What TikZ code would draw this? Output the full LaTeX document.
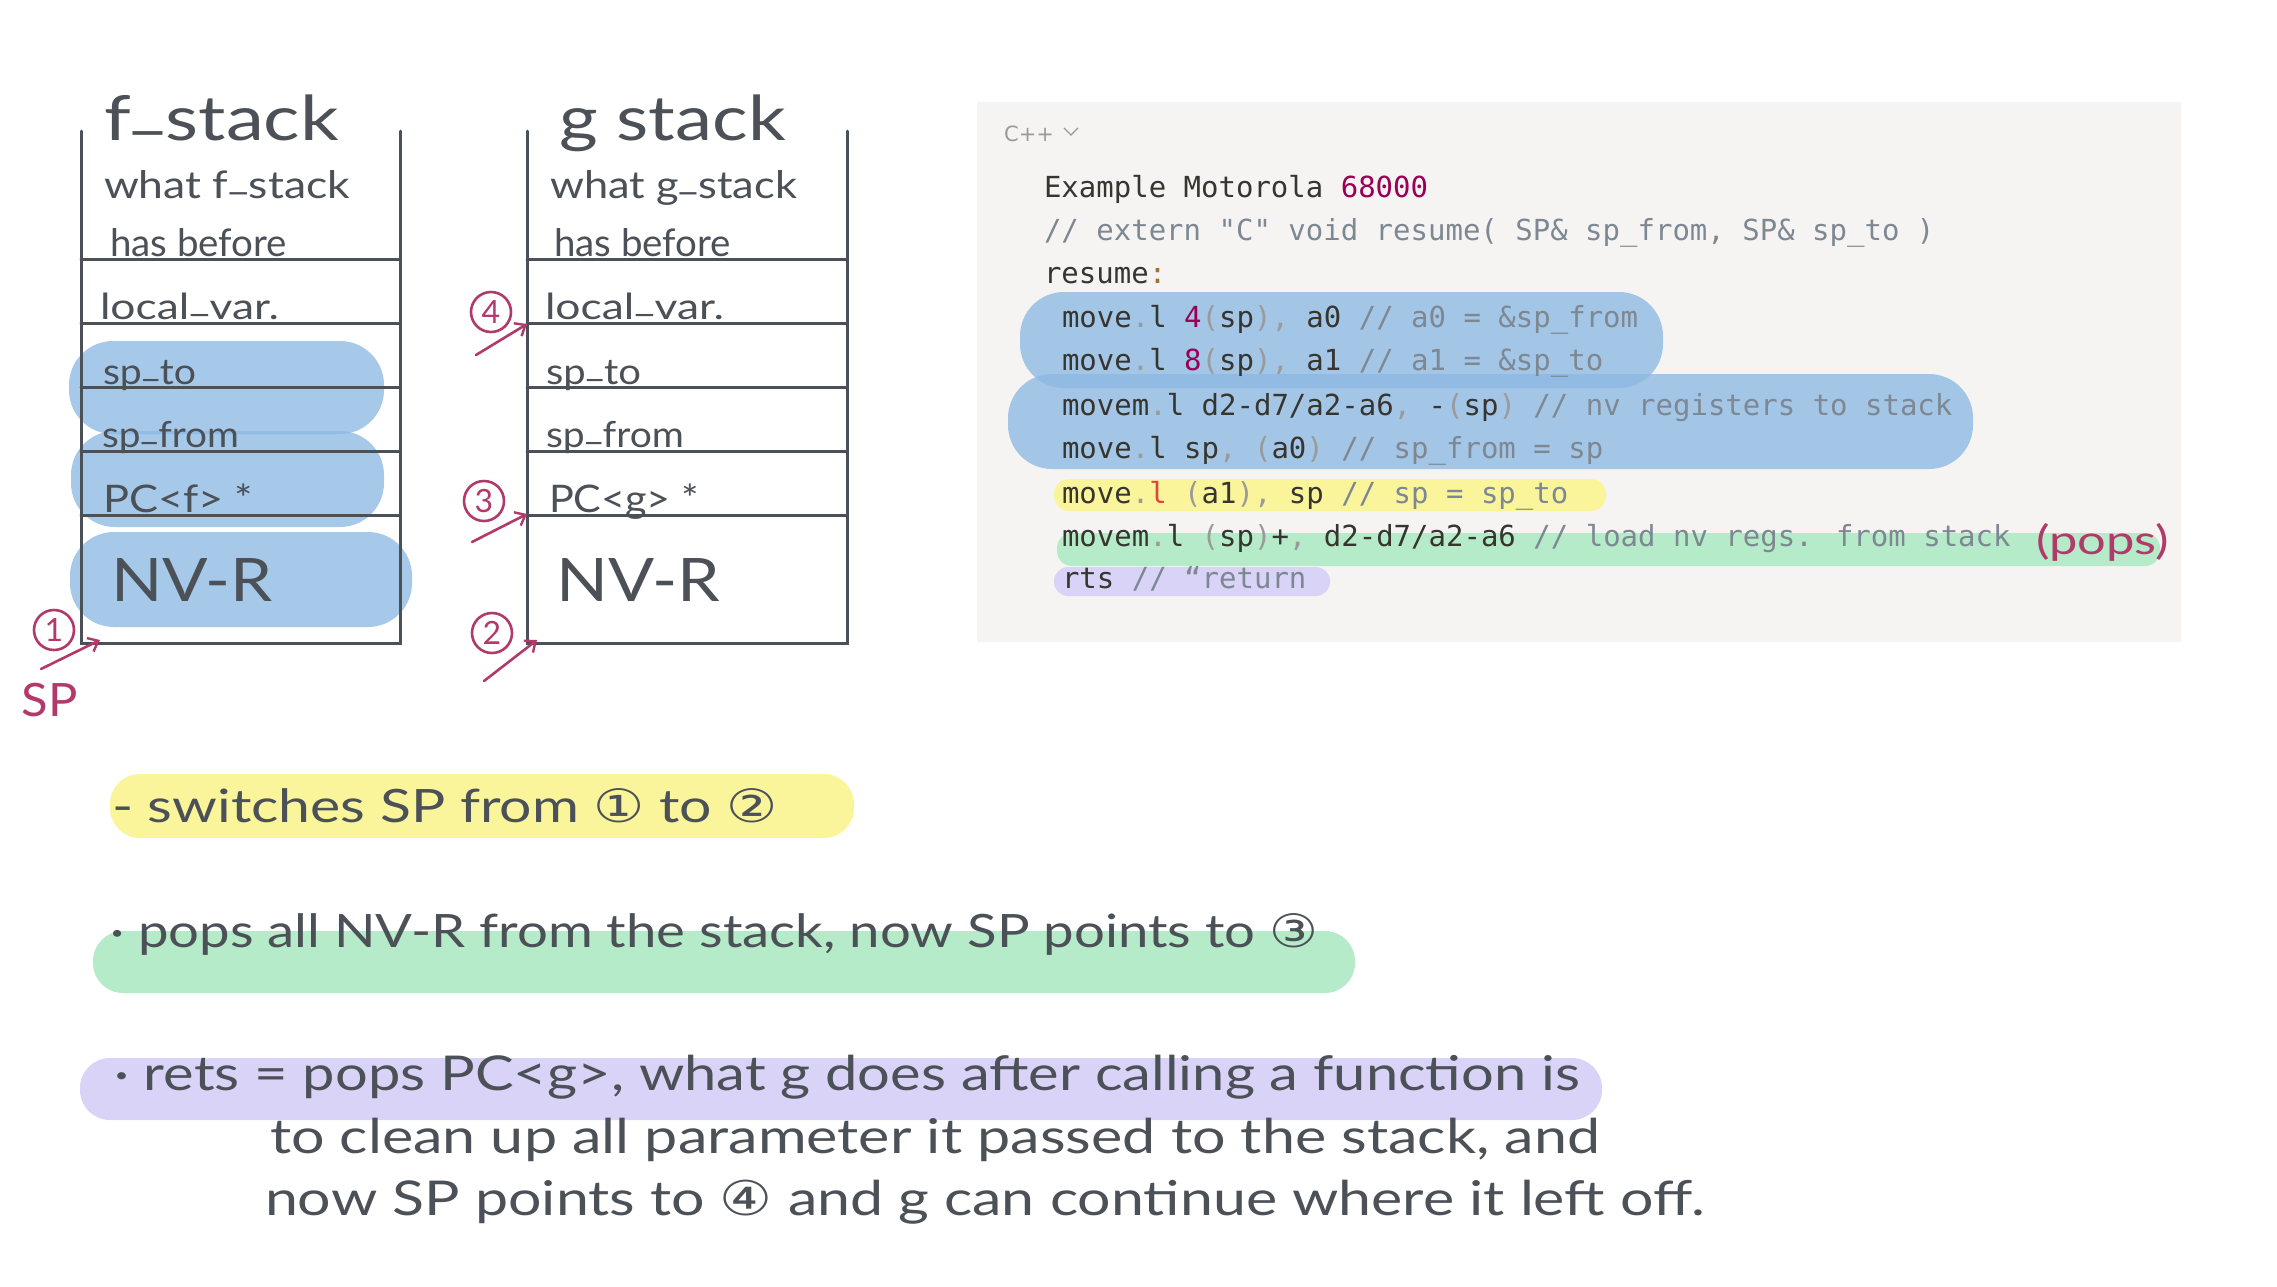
\documentclass[tikz,border=0pt]{standalone}
\usepackage{fontspec}
\usepackage{graphicx}
\usetikzlibrary{arrows.meta}
\newfontfamily\hand{Lato}
\newfontfamily\codef{DejaVu Sans Mono}
\newfontfamily\symf{DejaVu Sans}
\definecolor{ink}{HTML}{4B5157}
\definecolor{redink}{HTML}{B23A6B}
\definecolor{hlblue}{HTML}{8DB9E3}
\definecolor{hlyellow}{HTML}{FAF59B}
\definecolor{hlgreen}{HTML}{B5EBC8}
\definecolor{hlpurple}{HTML}{D9D3F7}
\definecolor{panel}{HTML}{F5F4F2}
\definecolor{codetxt}{HTML}{37352F}
\definecolor{codecom}{HTML}{7D8893}
\definecolor{codenum}{HTML}{990055}
\definecolor{codepun}{HTML}{9A9A9A}
\definecolor{codered}{HTML}{E0443E}
\definecolor{codecolon}{HTML}{A0703A}
\newcommand\hwtxt[3]{\resizebox{#1pt}{\height}{\hand\fontsize{#2}{#2}\selectfont #3}}
\newcommand\us{\raisebox{0.22em}{\_}}
\newcommand\cp[1]{\textcolor{codepun}{#1}}
\newcommand\cc[1]{\textcolor{codecom}{#1}}
\newcommand\cn[1]{\textcolor{codenum}{#1}}
\newcommand\circd[1]{{\symf #1}}
\tikzset{
  hw/.style={inner sep=0pt, outer sep=0pt, anchor=base west, text=ink},
  codeline/.style={inner sep=0pt, outer sep=0pt, anchor=base west, text=codetxt,
    font=\codef\fontsize{29}{29}\selectfont},
  stackline/.style={draw=ink, line width=3pt, line cap=round},
  bluehl/.style={fill=hlblue, fill opacity=0.78},
  marker/.style={circle, draw=redink, line width=2.6pt, text=redink, inner sep=0pt,
    minimum size=40pt, font=\hand\fontsize{32}{32}\selectfont},
  redarrow/.style={draw=redink, line width=2.6pt, line cap=round,
    -{Straight Barb[length=9pt,width=15pt,line width=2.4pt]}},
}
\begin{document}
\begin{tikzpicture}[x=1pt,y=-1pt]
\useasboundingbox (0,0) rectangle (2277,1286);
\fill[white] (0,0) rectangle (2277,1286);

% ---------- f stack highlights ----------
\fill[bluehl, rounded corners=44pt] (69,341) rectangle (384,434);
\fill[bluehl, rounded corners=44pt] (71,431) rectangle (384,527);
\fill[bluehl, rounded corners=44pt] (70,532) rectangle (412,627);

% ---------- f stack ----------
\coordinate (ftl) at (81,131);
\coordinate (fbl) at (81,643);
\coordinate (fbr) at (400,643);
\coordinate (ftr) at (400,131);
\draw[stackline] (ftl) -- (fbl) -- (fbr) -- (ftr);
\foreach \yy in {259,323,387,451,515}{\draw[stackline] (81,\yy) -- (400,\yy);}

\node[hw] (ftitle) at (104,140) {\hwtxt{235}{62}{f\us stack}};
\node[hw] (fwhat) at (104,198) {\hwtxt{246}{38}{what f\us stack}};
\node[hw] (fhas) at (110,256) {\hwtxt{177}{38}{has before}};
\node[hw] (floc) at (100,319) {\hwtxt{179}{36}{local\us var.}};
\node[hw] (fspto) at (103,384) {\hwtxt{93}{36}{sp\us to}};
\node[hw] (fspfrom) at (102,447) {\hwtxt{137}{36}{sp\us from}};
\node[hw] (fpc) at (103,512) {\hwtxt{150}{38}{PC<f> *}};
\node[hw] (fnvr) at (111,601) {\hwtxt{162}{60}{NV-R}};

% ---------- g stack ----------
\coordinate (gtl) at (527,131);
\coordinate (gbl) at (527,643);
\coordinate (gbr) at (847,643);
\coordinate (gtr) at (847,131);
\draw[stackline] (gtl) -- (gbl) -- (gbr) -- (gtr);
\foreach \yy in {259,323,387,451,515}{\draw[stackline] (527,\yy) -- (847,\yy);}

\node[hw] (gtitle) at (559,140) {\hwtxt{227}{62}{g stack}};
\node[hw] (gwhat) at (550,198) {\hwtxt{247}{38}{what g\us stack}};
\node[hw] (ghas) at (554,256) {\hwtxt{177}{38}{has before}};
\node[hw] (gloc) at (545,319) {\hwtxt{179}{36}{local\us var.}};
\node[hw] (gspto) at (546,384) {\hwtxt{95}{36}{sp\us to}};
\node[hw] (gspfrom) at (546,447) {\hwtxt{138}{36}{sp\us from}};
\node[hw] (gpc) at (549,512) {\hwtxt{150}{38}{PC<g> *}};
\node[hw] (gnvr) at (556,601) {\hwtxt{164}{60}{NV-R}};

% ---------- red markers ----------
\node[marker] (m1) at (54,630) {1};
\coordinate (a1s) at (41,669);
\coordinate (a1e) at (100,640);
\draw[redarrow] (a1s) -- (a1e);
\node[inner sep=0pt, text=redink, font=\hand\fontsize{46}{46}\selectfont] (spl) at (50,700) {\resizebox{56pt}{\height}{SP}};

\node[marker] (m4) at (491,312) {4};
\coordinate (a4s) at (476,355);
\coordinate (a4e) at (527,324);
\draw[redarrow] (a4s) -- (a4e);

\node[marker] (m3) at (484,501) {3};
\coordinate (a3s) at (472,542);
\coordinate (a3e) at (527,514);
\draw[redarrow] (a3s) -- (a3e);

\node[marker] (m2) at (492,633) {2};
\coordinate (a2s) at (484,681);
\coordinate (a2e) at (537,640);
\draw[redarrow] (a2s) -- (a2e);

% ---------- code panel ----------
\fill[panel] (977,102) rectangle (2181,642);
\fill[bluehl, rounded corners=44pt] (1020,292) rectangle (1663,388);
\fill[bluehl, rounded corners=44pt] (1008,374) rectangle (1973,469);
\fill[hlyellow, rounded corners=15pt] (1054,479) rectangle (1606,511);
\fill[hlgreen, rounded corners=15pt] (1057,533) rectangle (2160,566);
\fill[hlpurple, rounded corners=14pt] (1054,567) rectangle (1330,596);

\node[inner sep=0pt, anchor=base west, text=codepun, font=\symf\fontsize{21}{21}\selectfont] (lang) at (1004,141) {C++};
\draw[codepun, line width=1.3pt] (1064,128) -- (1071,135) -- (1078,128);

\node[codeline] (c1) at (1044,197) {Example Motorola \cn{68000}};
\node[codeline] (c2) at (1044,240) {\cc{// extern "C" void resume( SP\& sp\_from, SP\& sp\_to )}};
\node[codeline] (c3) at (1044,283) {resume\textcolor{codecolon}{:}};
\node[codeline] (c4) at (1062,327) {move\cp{.}l \cn{4}\cp{(}sp\cp{)}\cp{,} a0 \cc{// a0 = \&sp\_from}};
\node[codeline] (c5) at (1062,370) {move\cp{.}l \cn{8}\cp{(}sp\cp{)}\cp{,} a1 \cc{// a1 = \&sp\_to}};
\node[codeline] (c6) at (1062,415) {movem\cp{.}l d2-d7/a2-a6\cp{,} -\cp{(}sp\cp{)} \cc{// nv registers to stack}};
\node[codeline] (c7) at (1062,458) {move\cp{.}l sp\cp{,} \cp{(}a0\cp{)} \cc{// sp\_from = sp}};
\node[codeline] (c8) at (1062,503) {move\cp{.}\textcolor{codered}{l} \cp{(}a1\cp{)}\cp{,} sp \cc{// sp = sp\_to}};
\node[codeline] (c9) at (1062,546) {movem\cp{.}l \cp{(}sp\cp{)}+\cp{,} d2-d7/a2-a6 \cc{// load nv regs. from stack}};
\node[codeline] (c10) at (1062,588) {rts \cc{// “return}};
\node[hw, text=redink] (pops) at (2036,554) {\hwtxt{133}{40}{(pops)}};

% ---------- notes ----------
\fill[hlyellow, rounded corners=30pt] (110,774) rectangle (854,838);
\fill[hlgreen, rounded corners=30pt] (93,931) rectangle (1355,993);
\fill[hlpurple, rounded corners=30pt] (80,1058) rectangle (1602,1120);

\node[hw] (noteA) at (112,822) {\hwtxt{666}{46}{- switches SP from \circd{①} to \circd{②}}};
\node[hw] (noteB) at (110,947) {\hwtxt{1208}{46}{· pops all NV-R from the stack, now SP points to \circd{③}}};
\node[hw] (noteC) at (114,1090) {\hwtxt{1466}{48}{· rets = pops PC<g>, what g does after calling a function is}};
\node[hw] (noteD) at (270,1153) {\hwtxt{1330}{48}{to clean up all parameter it passed to the stack, and}};
\node[hw] (noteE) at (265,1215) {\hwtxt{1440}{48}{now SP points to \circd{④} and g can continue where it left off.}};
\end{tikzpicture}
\end{document}
